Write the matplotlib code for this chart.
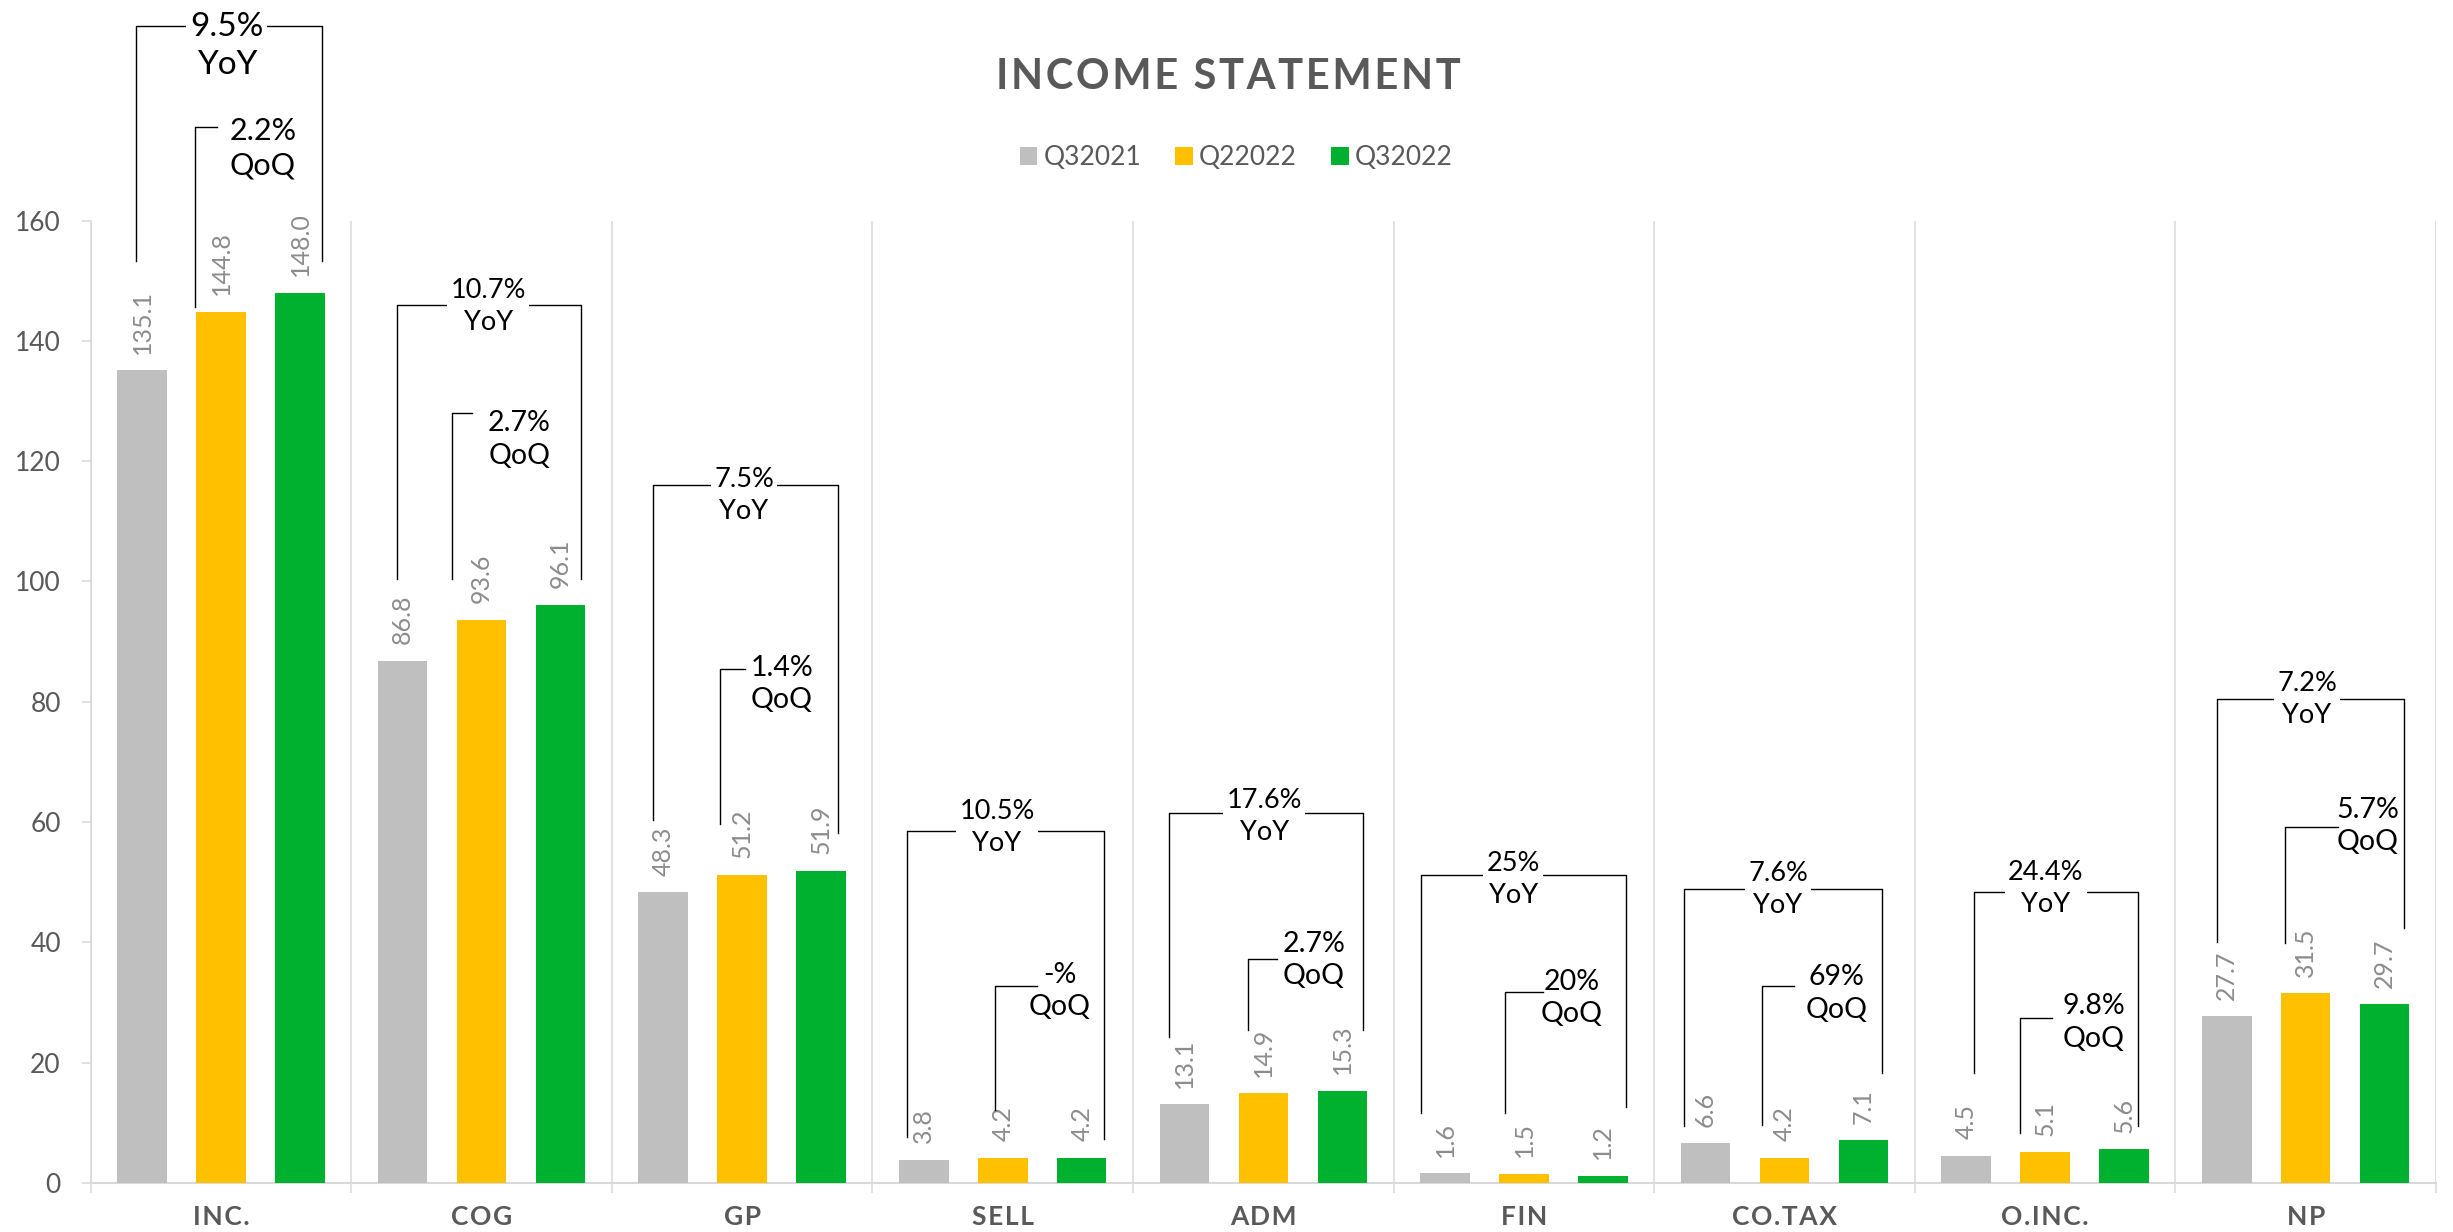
import numpy as np
import matplotlib
matplotlib.use("Agg")
import matplotlib.pyplot as plt

plt.rcParams['font.family'] = ['Lato', 'DejaVu Sans']

# --- data ---
categories = ['INC.', 'COG', 'GP', 'SELL', 'ADM', 'FIN', 'CO.TAX', 'O.INC.', 'NP']
series_names = ['Q32021', 'Q22022', 'Q32022']
q3_2021 = [135.1, 86.8, 48.3, 3.8, 13.1, 1.6, 6.6, 4.5, 27.7]
q2_2022 = [144.8, 93.6, 51.2, 4.2, 14.9, 1.5, 4.2, 5.1, 31.5]
q3_2022 = [148.0, 96.1, 51.9, 4.2, 15.3, 1.2, 7.1, 5.6, 29.7]
yoy_labels = ['9.5%', '10.7%', '7.5%', '10.5%', '17.6%', '25%', '7.6%', '24.4%', '7.2%']
qoq_labels = ['2.2%', '2.7%', '1.4%', '-%', '2.7%', '20%', '69%', '9.8%', '5.7%']

# --- bracket layout (x offsets in category units, y in value units) ---
# yoy: left x, right x, top, bottom left, bottom right, text x, text y
yoy_pos = [
    (-0.328, 0.386, 192.4, 153.3, 153.3, 0.022, 189.0),
    (-0.326, 0.381, 146.0, 100.4, 100.4, 0.025, 145.7),
    (-0.344, 0.369, 116.0, 60.4, 58.1, 0.007, 114.3),
    (-0.367, 0.387, 58.5, 7.6, 7.3, -0.022, 59.1),
    (-0.364, 0.382, 61.5, 24.2, 25.4, 0.004, 61.0),
    (-0.395, 0.390, 51.2, 11.7, 12.6, -0.041, 50.5),
    (-0.386, 0.375, 48.8, 9.4, 18.2, -0.025, 48.8),
    (-0.272, 0.358, 48.3, 18.2, 9.4, 0.003, 49.0),
    (-0.342, 0.376, 80.4, 40.0, 42.4, 0.005, 80.4),
]
# qoq: left x, top, bottom, line end x, text x, text y
qoq_pos = [
    (-0.100, 175.6, 145.7, -0.014, 0.160, 172.0),
    (-0.113, 128.0, 100.4, -0.035, 0.145, 123.6),
    (-0.086, 85.5, 59.7, 0.010, 0.153, 82.9),
    (-0.031, 32.8, 12.1, 0.132, 0.218, 31.9),
    (-0.059, 37.2, 25.4, 0.051, 0.193, 37.1),
    (-0.073, 31.7, 11.7, 0.074, 0.183, 30.8),
    (-0.085, 32.8, 9.6, 0.037, 0.200, 31.5),
    (-0.097, 27.4, 8.3, 0.025, 0.187, 26.7),
    (-0.079, 59.1, 39.9, 0.125, 0.237, 59.3),
]

colors = ['#BFBFBF', '#FFC000', '#00B12F']
axis_grey = '#D9D9D9'
text_grey = '#595959'
label_grey = '#8C8C8C'


def spaced(s):
    return '\u200a'.join(s)


fig = plt.figure(figsize=(24.53, 12.32), dpi=100)
ax = fig.add_axes([0.03698, 0.0398, 0.9561, 0.7812])

x = np.arange(len(categories))
offsets = [-0.303, 0.0, 0.303]
bar_w = 0.19
for vals, off, col, name in zip([q3_2021, q2_2022, q3_2022], offsets, colors, series_names):
    bars = ax.bar(x + off, vals, width=bar_w, color=col, label=name, zorder=3)
    for b, v in zip(bars, vals):
        ax.annotate(f'{v:.1f}', (b.get_x() + b.get_width() / 2, v),
                    xytext=(0, 12), textcoords='offset points',
                    rotation=90, ha='center', va='bottom',
                    fontsize=18, color=label_grey)

# --- YoY / QoQ brackets ---
for i in range(len(categories)):
    lx, rx, top, bl, br, tx, ty = yoy_pos[i]
    ax.plot([i + lx, i + lx, i + rx, i + rx], [bl, top, top, br],
            color='black', lw=1.0, clip_on=False, zorder=4)
    fs_y = 24 if i == 0 else 19.5
    ax.text(i + tx, ty, f'{yoy_labels[i]}\nYoY', ha='center', va='center',
            fontsize=fs_y, color='black', linespacing=1.35, zorder=5,
            clip_on=False,
            bbox=dict(boxstyle='square,pad=0.12', fc='white', ec='none'))

    qx, qtop, qbot, qend, qtx, qty = qoq_pos[i]
    ax.plot([i + qx, i + qx, i + qend], [qbot, qtop, qtop],
            color='black', lw=1.0, clip_on=False, zorder=4)
    fs_q = 22 if i == 0 else 20.5
    ax.text(i + qtx, qty, f'{qoq_labels[i]}\nQoQ', ha='center', va='center',
            fontsize=fs_q, color='black', linespacing=1.3, zorder=5,
            clip_on=False)

# --- axes styling ---
ax.set_xlim(-0.5, len(categories) - 0.5)
ax.set_ylim(0, 160)
ax.set_yticks(np.arange(0, 161, 20))
ax.set_xticks(x)
ax.set_xticklabels([spaced(c) for c in categories], fontsize=19,
                   fontweight='bold', color=text_grey)
ax.set_xticks(np.arange(-0.5, len(categories)), minor=True)
ax.tick_params(axis='x', which='major', length=0, pad=16)
ax.tick_params(axis='x', which='minor', length=7, width=1.1, color=axis_grey)
ax.tick_params(axis='y', length=6.5, width=1.1, color=axis_grey, pad=15,
               labelsize=19, labelcolor=text_grey)
ax.grid(axis='x', which='minor', color=axis_grey, lw=1.1, zorder=0)
for s in ['top', 'right']:
    ax.spines[s].set_visible(False)
ax.spines['left'].set_color(axis_grey)
ax.spines['left'].set_linewidth(1.1)
ax.spines['bottom'].set_color(axis_grey)
ax.spines['bottom'].set_linewidth(1.5)

fig.text(0.5006, 0.9375, spaced('INCOME STATEMENT'), ha='center', va='center',
         fontsize=30, fontweight='bold', color=text_grey)

fig.legend(loc='center', bbox_to_anchor=(0.504, 0.872), ncol=3, frameon=False,
           fontsize=19, handlelength=0.65, handleheight=0.65,
           handletextpad=0.25, columnspacing=1.3, labelcolor=text_grey)

fig.savefig('out.png', dpi=100)
